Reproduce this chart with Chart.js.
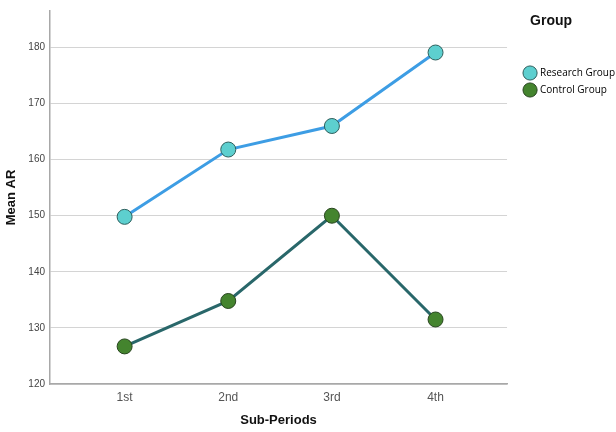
<!DOCTYPE html>
<html>
<head>
<meta charset="utf-8">
<script src="https://cdn.jsdelivr.net/npm/chart.js@4.4.1/dist/chart.umd.min.js"></script>
<style>
  html, body { margin: 0; padding: 0; background: #fff; }
  #wrap { width: 616px; height: 432px; position: relative; }
</style>
</head>
<body>
<div id="wrap"><canvas id="meanChart"></canvas></div>
<script>
// Chart data
const periods = ["1st", "2nd", "3rd", "4th"];
const researchGroup = [149.8, 161.8, 166.0, 179.1];
const controlGroup = [126.7, 134.8, 150.0, 131.5];
const yTicks = [120, 130, 140, 150, 160, 170, 180];
const legendHeading = "Group";

const toPoints = arr => arr.map((v, i) => ({ x: i, y: v }));

// move the legend box right/down and write its heading above it
const legendTweak = {
    id: "legendTweak",
    afterLayout(chart) {
        if (chart.legend) {
            chart.legend.left += 11;
            chart.legend.right += 11;
            chart.legend.top += 51;
            chart.legend.bottom += 51;
        }
    },
    afterDraw(chart) {
        const c = chart.ctx;
        c.save();
        c.font = "bold 14px 'Liberation Sans', Arial, sans-serif";
        c.fillStyle = "#111";
        c.textBaseline = "middle";
        c.textAlign = "left";
        c.fillText(legendHeading, chart.legend.left + 12, 21);
        c.restore();
    }
};

const ctx = document.getElementById("meanChart").getContext("2d");

new Chart(ctx, {
    type: "line",
    plugins: [legendTweak],
    data: {
        datasets: [{
            label: "Research Group",
            data: toPoints(researchGroup),
            borderColor: "#3d9de4",
            backgroundColor: "#5dcfcf",
            borderWidth: 3,
            pointRadius: 7.5,
            pointBackgroundColor: "#5dcfcf",
            pointBorderColor: "#2e5e5c",
            pointBorderWidth: 1,
            pointStyle: "circle"
        }, {
            label: "Control Group",
            data: toPoints(controlGroup),
            borderColor: "#29676a",
            backgroundColor: "#44842e",
            borderWidth: 3,
            pointRadius: 7.5,
            pointBackgroundColor: "#44842e",
            pointBorderColor: "#28451f",
            pointBorderWidth: 1,
            pointStyle: "circle"
        }]
    },
    options: {
        responsive: true,
        maintainAspectRatio: false,
        animation: false,
        layout: { padding: { top: 10, right: 2 } },
        plugins: {
            tooltip: { enabled: false },
            legend: {
                position: "right",
                align: "start",
                labels: {
                    usePointStyle: true,
                    boxWidth: 10,
                    boxHeight: 10,
                    padding: 7,
                    color: "#222",
                    font: { family: "Open Sans, sans-serif", size: 10 },
                    generateLabels: chart => chart.data.datasets.map((ds, i) => ({
                        text: ds.label,
                        fillStyle: ds.pointBackgroundColor,
                        strokeStyle: ds.pointBorderColor,
                        lineWidth: 1,
                        pointStyle: "circle",
                        datasetIndex: i
                    }))
                }
            }
        },
        scales: {
            x: {
                type: "linear",
                min: -0.72,
                max: 3.69,
                afterBuildTicks: scale => {
                    scale.ticks = periods.map((p, i) => ({ value: i }));
                },
                afterFit: scale => { scale.height = 48; },
                grid: { display: false, drawTicks: false },
                border: { color: "#a8a8a8", width: 1.5 },
                ticks: {
                    padding: 6,
                    color: "#555",
                    font: { family: "Liberation Sans, Arial, sans-serif", size: 12 },
                    callback: v => periods[v]
                },
                title: {
                    display: true,
                    text: "Sub-Periods",
                    color: "#111",
                    font: { family: "Liberation Sans, Arial, sans-serif", size: 13, weight: "bold" },
                    padding: { top: 8 }
                }
            },
            y: {
                min: 120,
                max: 186.5,
                afterBuildTicks: scale => {
                    scale.ticks = yTicks.map(v => ({ value: v }));
                },
                afterFit: scale => { scale.width = 50; },
                grid: { color: "#d4d4d4", lineWidth: 1, drawTicks: false },
                border: { color: "#a8a8a8", width: 1.5 },
                ticks: {
                    padding: 5,
                    color: "#444",
                    font: { family: "Liberation Sans, Arial, sans-serif", size: 10 }
                },
                title: {
                    display: true,
                    text: "Mean AR",
                    color: "#111",
                    font: { family: "Liberation Sans, Arial, sans-serif", size: 13, weight: "bold" },
                    padding: { bottom: 4 }
                }
            }
        }
    }
});
</script>
</body>
</html>
